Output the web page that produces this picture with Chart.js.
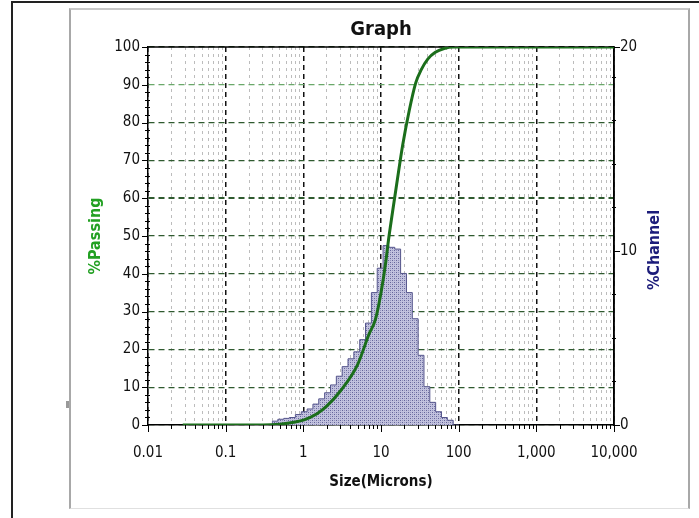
<!DOCTYPE html>
<html><head><meta charset="utf-8">
<script src="https://cdn.jsdelivr.net/npm/chart.js@4.4.0/dist/chart.umd.min.js"></script>
<style>
html,body{margin:0;padding:0;background:#fff;}
#wrap{position:relative;width:699px;height:518px;overflow:hidden;background:#fff;}
#frameOuter{position:absolute;left:11px;top:1px;width:700px;height:530px;border-left:2px solid #222;border-top:2px solid #222;}
#panel{position:absolute;left:69px;top:8px;width:617px;height:498px;border-left:2px solid #a8a8a8;border-top:2px solid #c8c8c8;border-right:2px solid #a8a8a8;border-bottom:1px solid #e0e0e0;}
#mark{position:absolute;left:66px;top:401px;width:3px;height:7px;background:#999;}
canvas{position:absolute;left:0;top:0;}
</style></head>
<body>
<div id="wrap">
<div id="frameOuter"></div>
<div id="panel"></div>
<div id="mark"></div>
<canvas id="c" width="699" height="518"></canvas>
</div>
<script>
// ---- data ----
const xTickValues = [0.01, 0.1, 1, 10, 100, 1000, 10000];
const xTickLabels = ['0.01', '0.1', '1', '10', '100', '1,000', '10,000'];
const yTickLabels = ['0','10','20','30','40','50','60','70','80','90','100'];
const y2TickLabels = ['0', '10', '20'];

// histogram bins (microns): lower edge of first bin, then upper edges
const binEdges = [0.4, 0.47, 0.56, 0.66, 0.79, 0.94, 1.12, 1.33, 1.58, 1.88, 2.24, 2.66, 3.16, 3.76, 4.47, 5.32, 6.32,
  7.52, 8.94, 10.63, 12.65, 15.04, 17.88, 21.27, 25.29, 30.07, 35.76, 42.52, 50.56, 60.13, 71.51, 85.04, 101.1];
const channelPct = [0.16, 0.22, 0.33, 0.38, 0.43, 0.6, 0.76, 0.92, 1.2, 1.5, 1.85, 2.3, 2.8, 3.35, 3.8, 4.2,
  4.9, 5.85, 7.6, 9.0, 10.3, 10.2, 10.1, 8.7, 7.6, 6.1, 4.0, 2.2, 1.3, 0.76, 0.43, 0.27];

// cumulative % passing curve
const cumSize    = [0.028, 0.3, 0.5, 0.79, 1.0, 1.5, 2, 3, 5, 7, 8.5, 10, 11.5, 12.5, 14, 16, 19, 23, 28, 33, 40, 50, 65, 85, 100, 10000];
const cumPassing = [0, 0, 0.2, 0.8, 1.3, 3, 5, 9, 16, 24, 28, 35, 43, 49, 56, 64, 74, 83, 90.5, 94, 96.8, 98.6, 99.6, 100, 100, 100];

const Y2_MAX = 21.7;

// ---- build ----
const FONT = "'Liberation Sans Narrow', 'Arial Narrow', 'DejaVu Sans Condensed', sans-serif";

const histPts = [{x: binEdges[0], y: 0}];
channelPct.forEach((v, i) => histPts.push({x: binEdges[i], y: v}));
histPts.push({x: binEdges[binEdges.length - 1], y: 0});

const cumPts = cumSize.map((s, i) => ({x: s, y: cumPassing[i]}));

// dotted lavender pattern
const pc = document.createElement('canvas');
pc.width = 4; pc.height = 4;
const pctx = pc.getContext('2d');
pctx.fillStyle = '#c2c2de'; pctx.fillRect(0, 0, 4, 4);
pctx.fillStyle = '#64649a';
pctx.fillRect(0, 0, 1, 1); pctx.fillRect(2, 2, 1, 1);
pctx.fillStyle = '#9494bc';
pctx.fillRect(2, 0, 1, 1); pctx.fillRect(0, 2, 1, 1);
const ctx0 = document.getElementById('c').getContext('2d');
const pattern = ctx0.createPattern(pc, 'repeat');

const isMajor = v => Math.abs(Math.log10(v) - Math.round(Math.log10(v))) < 1e-6;

const decor = {
  id: 'decor',
  beforeDatasetsDraw(chart) {
    const {ctx, chartArea: a} = chart;
    ctx.save();
    ctx.strokeStyle = '#000';
    ctx.lineWidth = 1.5;
    ctx.beginPath();
    ctx.moveTo(a.left, a.top); ctx.lineTo(a.right, a.top); ctx.lineTo(a.right, a.bottom);
    ctx.stroke();
    ctx.restore();
  },
  afterDraw(chart) {
    const {ctx, chartArea: a, scales} = chart;
    ctx.save();
    ctx.strokeStyle = '#000';
    ctx.lineWidth = 1;
    ctx.beginPath();
    const dec = xTickValues;
    for (let d = 0; d < dec.length; d++) {
      const px = Math.round(scales.x.getPixelForValue(dec[d])) + 0.5;
      ctx.moveTo(px, a.bottom); ctx.lineTo(px, a.bottom + 7);
      if (d < dec.length - 1) {
        for (let m = 2; m <= 9; m++) {
          const p = Math.round(scales.x.getPixelForValue(dec[d] * m)) + 0.5;
          ctx.moveTo(p, a.bottom); ctx.lineTo(p, a.bottom + 4);
        }
      }
    }
    for (let v = 0; v <= 100; v += 2) {
      const py = Math.round(scales.y.getPixelForValue(v)) + 0.5;
      if (v % 10 === 0) { ctx.moveTo(a.left - 6, py); ctx.lineTo(a.left, py); }
      else { ctx.moveTo(a.left - 3, py); ctx.lineTo(a.left + 2, py); }
    }
    [0, 10, Y2_MAX].forEach(v => {
      const py = Math.round(scales.y2.getPixelForValue(v)) + 0.5;
      ctx.moveTo(a.right, py); ctx.lineTo(a.right + 6, py);
    });
    for (let v = 2.5; v < Y2_MAX; v += 2.5) {
      if (v === 10) continue;
      const py = Math.round(scales.y2.getPixelForValue(v)) + 0.5;
      ctx.moveTo(a.right - 2, py); ctx.lineTo(a.right + 2, py);
    }
    ctx.stroke();
    ctx.translate(655, (a.top + a.bottom) / 2 + 14);
    ctx.rotate(-Math.PI / 2);
    ctx.fillStyle = '#1c1c7a';
    ctx.font = "bold 16px " + FONT;
    ctx.textAlign = 'center';
    ctx.textBaseline = 'middle';
    ctx.fillText('%Channel', 0, 0);
    ctx.restore();
  }
};

new Chart(document.getElementById('c'), {
  type: 'line',
  data: {
    datasets: [
      {
        label: '% Passing',
        data: cumPts,
        yAxisID: 'y',
        borderColor: '#1b6e1b',
        borderWidth: 3,
        pointRadius: 0,
        cubicInterpolationMode: 'monotone',
        fill: false,
        order: 0
      },
      {
        label: '% Channel',
        data: histPts,
        yAxisID: 'y2',
        stepped: 'after',
        borderColor: '#55558c',
        borderWidth: 1,
        backgroundColor: pattern,
        fill: 'origin',
        pointRadius: 0,
        order: 1
      }
    ]
  },
  options: {
    responsive: false,
    animation: false,
    events: [],
    layout: {padding: {left: 70, right: 0, top: 0, bottom: 0}},
    plugins: {
      legend: {display: false},
      tooltip: {enabled: false},
      title: {
        display: true,
        text: 'Graph',
        fullSize: false,
        color: '#111',
        font: {family: FONT, size: 20, weight: 'bold', lineHeight: 1.2},
        padding: {top: 18, bottom: 5}
      }
    },
    scales: {
      x: {
        type: 'logarithmic',
        position: 'bottom',
        min: 0.01,
        max: 10000,
        afterBuildTicks(scale) {
          const t = [];
          for (let d = 0; d < xTickValues.length - 1; d++)
            for (let m = 1; m <= 9; m++) t.push({value: xTickValues[d] * m});
          t.push({value: xTickValues[xTickValues.length - 1]});
          scale.ticks = t;
        },
        afterFit(scale) { scale.height = 93; },
        ticks: {
          autoSkip: false,
          maxRotation: 0,
          minRotation: 0,
          padding: 19,
          color: '#111',
          font: {family: FONT, size: 15},
          callback(v) {
            const i = xTickValues.findIndex(d => Math.abs(d - v) / d < 1e-6);
            return i >= 0 ? xTickLabels[i] : '';
          }
        },
        grid: {
          drawTicks: false,
          color(ctx) {
            if (!ctx.tick) return '#000';
            return isMajor(ctx.tick.value) ? '#111' : '#bcbcbc';
          },
          lineWidth(ctx) {
            if (!ctx.tick) return 1;
            return isMajor(ctx.tick.value) ? 1.5 : 1;
          }
        },
        border: {
          display: true, color: '#000', width: 1.5,
          dash(ctx) {
            if (!ctx.tick) return [];
            return isMajor(ctx.tick.value) ? [5, 4] : [3, 4];
          }
        },
        title: {
          display: true,
          text: 'Size(Microns)',
          color: '#111',
          font: {family: FONT, size: 15, weight: 'bold', lineHeight: 1.2},
          padding: {top: 0, bottom: 27}
        }
      },
      y: {
        position: 'left',
        min: 0,
        max: 100,
        afterBuildTicks(scale) {
          scale.ticks = yTickLabels.map(l => ({value: Number(l)}));
        },
        afterFit(scale) { scale.width = 78; },
        ticks: {
          padding: 8,
          color: '#111',
          font: {family: FONT, size: 15},
          callback(v, i) { return yTickLabels[i]; }
        },
        grid: {
          drawTicks: false,
          color(ctx) {
            if (!ctx.tick) return '#2f5a2f';
            return ctx.tick.value === 90 ? '#6aa86a' : '#2f5a2f';
          },
          lineWidth(ctx) {
            if (!ctx.tick) return 1.2;
            return ctx.tick.value === 60 ? 2 : 1.2;
          }
        },
        border: {
          display: true, color: '#000', width: 1.5,
          dash(ctx) { return ctx.tick ? [6, 4] : []; }
        },
        title: {
          display: true,
          text: '%Passing',
          color: '#22a022',
          font: {family: FONT, size: 16, weight: 'bold', lineHeight: 1.2},
          padding: {top: 16, bottom: 0}
        }
      },
      y2: {
        position: 'right',
        min: 0,
        max: Y2_MAX,
        afterBuildTicks(scale) {
          scale.ticks = [{value: 0}, {value: 10}, {value: Y2_MAX}];
        },
        afterFit(scale) { scale.width = 85; },
        ticks: {
          padding: 6,
          color: '#111',
          font: {family: FONT, size: 15},
          callback(v, i) { return y2TickLabels[i]; }
        },
        grid: {drawOnChartArea: false, drawTicks: false},
        border: {display: true, color: '#000', width: 1.5}
      }
    }
  },
  plugins: [decor]
});
</script>
</body></html>
